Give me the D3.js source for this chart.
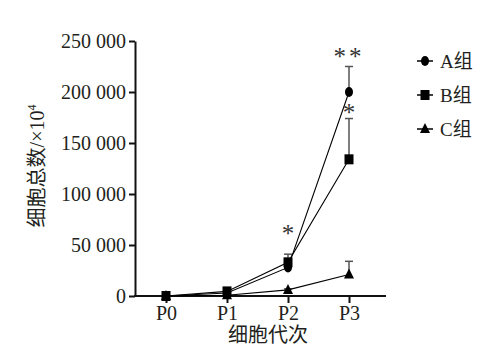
<!DOCTYPE html>
<html><head><meta charset="utf-8">
<script src="https://cdn.jsdelivr.net/npm/d3@7"></script>
<style>body{margin:0;background:#fff}svg{display:block}</style>
</head><body>
<svg id="c" width="492" height="359"></svg>
<script>
const categories = ["P0","P1","P2","P3"];
const seriesNames = ["A组","B组","C组"];
const valuesA = [0, 3000, 28000, 200000];
const valuesB = [0, 4500, 33000, 134000];
const valuesC = [0, 800, 6000, 21000];
const errA = [0, 800, 3000, 25000];
const errB = [0, 800, 8000, 40000];
const errC = [0, 300, 1000, 13000];
const yTicks = [0, 50000, 100000, 150000, 200000, 250000];
const yTickLabels = ["0","50 000","100 000","150 000","200 000","250 000"];
const stars = [{cat:"P2", y:66000, t:"*"},{cat:"P3", y:184000, t:"*"},{cat:"P3", y:239000, t:"**"}];

const svg = d3.select("#c");
const serif = "'Liberation Serif','Times New Roman',serif";
const cjk = "'Liberation Serif','Noto Sans CJK SC',serif";
const x = d3.scalePoint().domain(categories).range([166, 349]);
const y = d3.scaleLinear().domain([0, 250000]).range([296, 41]);

// axes
const yAxis = svg.append("g").attr("transform","translate(135,0)")
  .call(d3.axisLeft(y).tickValues(yTicks).tickSize(6).tickSizeOuter(0).tickFormat((d,i)=>yTickLabels[i]));
yAxis.select(".domain").attr("stroke","#111").attr("stroke-width",2);
yAxis.selectAll(".tick line").attr("stroke","#111").attr("stroke-width",2);
yAxis.selectAll(".tick text").attr("font-family",serif).attr("font-size",20).attr("fill","#231f20").attr("x",-9).attr("dy","0.33em");

svg.append("line").attr("x1",134).attr("x2",386).attr("y1",296).attr("y2",296).attr("stroke","#111").attr("stroke-width",2.2);
const xAxis = svg.append("g").attr("transform","translate(0,296)")
  .call(d3.axisBottom(x).tickSize(7).tickSizeOuter(0));
xAxis.select(".domain").remove();
xAxis.selectAll(".tick line").attr("stroke","#111").attr("stroke-width",2);
xAxis.selectAll(".tick text").attr("font-family",serif).attr("font-size",20).attr("fill","#231f20").attr("y",10).attr("dy","0.71em");

// titles
svg.append("text").attr("x",268).attr("y",342).attr("text-anchor","middle")
  .attr("font-family",cjk).attr("font-size",20).attr("fill","#231f20").text("细胞代次");
const yt = svg.append("text").attr("transform","translate(44,166) rotate(-90)").attr("text-anchor","middle")
  .attr("font-family",cjk).attr("font-size",20).attr("fill","#231f20");
yt.append("tspan").text("细胞总数/×10");
yt.append("tspan").attr("font-size",12).attr("dy",-8).text("4");

const series = [
  {name:seriesNames[0], v:valuesA, e:errA, shape:"circle"},
  {name:seriesNames[1], v:valuesB, e:errB, shape:"square"},
  {name:seriesNames[2], v:valuesC, e:errC, shape:"triangle"}
];
const line = d3.line().x((d,i)=>x(categories[i])).y(d=>y(d));

function marker(g, shape, cx, cy){
  if(shape==="circle") g.append("ellipse").attr("cx",cx).attr("cy",cy).attr("rx",4).attr("ry",5).attr("fill","#000");
  else if(shape==="square") g.append("rect").attr("x",cx-4.5).attr("y",cy-5).attr("width",9).attr("height",10).attr("fill","#000");
  else g.append("path").attr("d",`M${cx},${cy-6}L${cx+5},${cy+4}L${cx-5},${cy+4}Z`).attr("fill","#000");
}

// error bars
series.forEach(s=>{
  s.v.forEach((v,i)=>{
    if(s.e[i]<=0) return;
    const cx = x(categories[i]);
    svg.append("line").attr("x1",cx).attr("x2",cx).attr("y1",y(v)).attr("y2",y(v+s.e[i])).attr("stroke","#555").attr("stroke-width",1.5);
    svg.append("line").attr("x1",cx-4).attr("x2",cx+4).attr("y1",y(v+s.e[i])).attr("y2",y(v+s.e[i])).attr("stroke","#555").attr("stroke-width",1.5);
  });
});
series.forEach(s=>{
  svg.append("path").attr("d",line(s.v)).attr("fill","none").attr("stroke","#000").attr("stroke-width",1.1);
});
series.forEach(s=>{
  const g = svg.append("g");
  s.v.forEach((v,i)=>marker(g, s.shape, x(categories[i]), y(v)));
});

// stars (Liberation Serif asterisk centre sits ~0.52em above baseline)
stars.forEach(st=>{
  svg.append("text").attr("x",x(st.cat)).attr("y",y(st.y)+13).attr("text-anchor","middle")
    .attr("letter-spacing", st.t.length>1 ? 3 : 0)
    .attr("font-family",serif).attr("font-size",25).attr("fill","#333").text(st.t);
});

// legend
const legY = [61, 95, 129];
series.forEach((s,i)=>{
  const g = svg.append("g");
  g.append("line").attr("x1",417).attr("x2",433).attr("y1",legY[i]).attr("y2",legY[i]).attr("stroke","#000").attr("stroke-width",1.5);
  marker(g, s.shape, 425, legY[i]);
  g.append("text").attr("x",440).attr("y",legY[i]).attr("dy","0.35em").attr("font-family",cjk).attr("font-size",19).attr("fill","#231f20").text(s.name);
});
</script>
</body></html>
